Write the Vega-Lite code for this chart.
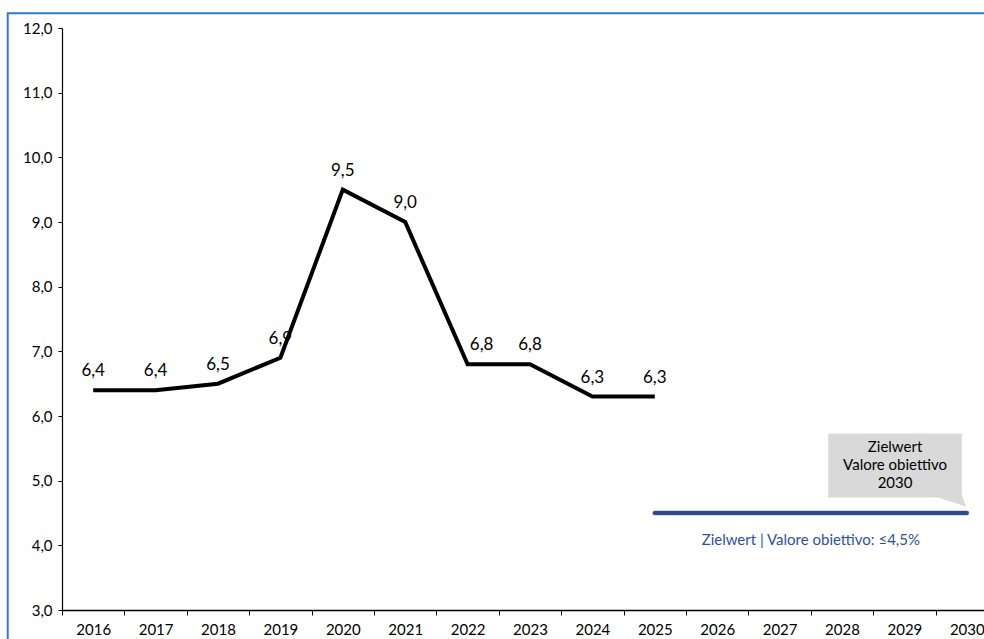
{
  "$schema": "https://vega.github.io/schema/vega-lite/v6.json",
  "autosize": "none",
  "width": 936,
  "height": 582,
  "padding": {"left": 62, "top": 28, "right": 0, "bottom": 29},
  "background": "white",
  "config": {
    "locale": {"number": {"decimal": ",", "thousands": ".", "grouping": [3], "currency": ["", " €"]}},
    "view": {"stroke": null},
    "font": "Open Sans",
    "axis": {"grid": false, "domainColor": "#000000", "tickColor": "#000000", "labelColor": "#000000", "titleColor": "#000000"}
  },
  "datasets": {
    "quote": [
      {"Jahr": 2016, "Wert": 6.4},
      {"Jahr": 2017, "Wert": 6.4},
      {"Jahr": 2018, "Wert": 6.5},
      {"Jahr": 2019, "Wert": 6.9},
      {"Jahr": 2020, "Wert": 9.5},
      {"Jahr": 2021, "Wert": 9.0},
      {"Jahr": 2022, "Wert": 6.8},
      {"Jahr": 2023, "Wert": 6.8},
      {"Jahr": 2024, "Wert": 6.3},
      {"Jahr": 2025, "Wert": 6.3}
    ],
    "ziel": [
      {"von": 2025, "bis": 2030, "Wert": 4.5, "Text": "Zielwert | Valore obiettivo: ≤4,5%"}
    ]
  },
  "resolve": {"axis": {"x": "independent"}},
  "layer": [
    {
      "data": {"values": [{}]},
      "mark": {"type": "rect", "fill": null, "stroke": "#2E7BC6", "strokeWidth": 2},
      "encoding": {
        "x": {"datum": 2014.63, "type": "quantitative", "scale": {"domain": [2015.5, 2030.5], "nice": false, "zero": false},
              "axis": {"orient": "bottom", "values": [2016, 2017, 2018, 2019, 2020, 2021, 2022, 2023, 2024, 2025, 2026, 2027, 2028, 2029, 2030],
                       "format": "d", "ticks": false, "title": null, "labelPadding": 12, "labelFontSize": 15,
                       "labelFont": "Lato", "domain": true, "domainWidth": 1.5}},
        "x2": {"datum": 2032},
        "y": {"datum": 12.23, "type": "quantitative", "scale": {"domain": [3, 12], "nice": false, "zero": false},
              "axis": {"values": [3, 4, 5, 6, 7, 8, 9, 10, 11, 12], "format": ".1f", "title": null, "tickSize": 4,
                       "labelPadding": 6, "labelFontSize": 15, "labelFont": "Lato", "domainWidth": 1.2}},
        "y2": {"datum": 2.0}
      }
    },
    {
      "data": {"values": [{}]},
      "mark": {"type": "rule", "opacity": 0},
      "encoding": {
        "x": {"datum": 2015.5, "type": "quantitative",
              "axis": {"orient": "bottom", "values": [2015.5, 2016.5, 2017.5, 2018.5, 2019.5, 2020.5, 2021.5, 2022.5, 2023.5, 2024.5, 2025.5, 2026.5, 2027.5, 2028.5, 2029.5, 2030.5],
                       "labels": false, "domain": false, "ticks": true, "tickSize": 5, "title": null}}
      }
    },
    {
      "data": {"name": "quote"},
      "mark": {"type": "line", "color": "#000000", "strokeWidth": 4, "strokeJoin": "miter"},
      "encoding": {
        "x": {"field": "Jahr", "type": "quantitative", "axis": null},
        "y": {"field": "Wert", "type": "quantitative"}
      }
    },
    {
      "data": {"name": "quote"},
      "transform": [{"filter": "datum.Jahr != 2022"}],
      "mark": {"type": "text", "dy": -19, "fontSize": 17, "font": "Lato", "color": "#000000"},
      "encoding": {
        "x": {"field": "Jahr", "type": "quantitative", "axis": null},
        "y": {"field": "Wert", "type": "quantitative"},
        "text": {"field": "Wert", "type": "quantitative", "format": ".1f"}
      }
    },
    {
      "data": {"name": "quote"},
      "transform": [{"filter": "datum.Jahr == 2022"}],
      "mark": {"type": "text", "dy": -19, "dx": 14, "fontSize": 17, "font": "Lato", "color": "#000000"},
      "encoding": {
        "x": {"field": "Jahr", "type": "quantitative", "axis": null},
        "y": {"field": "Wert", "type": "quantitative"},
        "text": {"field": "Wert", "type": "quantitative", "format": ".1f"}
      }
    },
    {
      "data": {"values": [{}]},
      "mark": {"type": "rect", "color": "#D9D9D9"},
      "encoding": {
        "x": {"datum": 2027.78, "type": "quantitative", "axis": null},
        "x2": {"datum": 2029.92},
        "y": {"datum": 5.73, "type": "quantitative"},
        "y2": {"datum": 4.74}
      }
    },
    {
      "data": {"values": [{}]},
      "mark": {"type": "point", "filled": true, "color": "#D9D9D9", "opacity": 1, "size": 1600,
               "shape": "M-1,-0.25L0.6,-0.25L0.8,0.32Z"},
      "encoding": {
        "x": {"datum": 2029.73, "type": "quantitative", "axis": null},
        "y": {"datum": 4.7, "type": "quantitative"}
      }
    },
    {
      "data": {"values": [{}]},
      "mark": {"type": "text", "fontSize": 15, "font": "Lato", "lineHeight": 18, "color": "#000000", "baseline": "middle"},
      "encoding": {
        "x": {"datum": 2028.85, "type": "quantitative", "axis": null},
        "y": {"datum": 5.52, "type": "quantitative"},
        "text": {"value": ["Zielwert", "Valore obiettivo", "2030"]}
      }
    },
    {
      "data": {"name": "ziel"},
      "mark": {"type": "rule", "color": "#AAB4C8", "strokeWidth": 5, "strokeCap": "round", "dy": 2},
      "encoding": {
        "x": {"field": "von", "type": "quantitative", "axis": null},
        "x2": {"field": "bis"},
        "y": {"field": "Wert", "type": "quantitative"}
      }
    },
    {
      "data": {"name": "ziel"},
      "mark": {"type": "rule", "color": "#2F4A8A", "strokeWidth": 4, "strokeCap": "round"},
      "encoding": {
        "x": {"field": "von", "type": "quantitative", "axis": null},
        "x2": {"field": "bis"},
        "y": {"field": "Wert", "type": "quantitative"}
      }
    },
    {
      "data": {"name": "ziel"},
      "mark": {"type": "text", "dy": 27, "fontSize": 15, "font": "Lato", "color": "#2F4F9E"},
      "encoding": {
        "x": {"datum": 2027.5, "type": "quantitative", "axis": null},
        "y": {"field": "Wert", "type": "quantitative"},
        "text": {"field": "Text"}
      }
    }
  ]
}
